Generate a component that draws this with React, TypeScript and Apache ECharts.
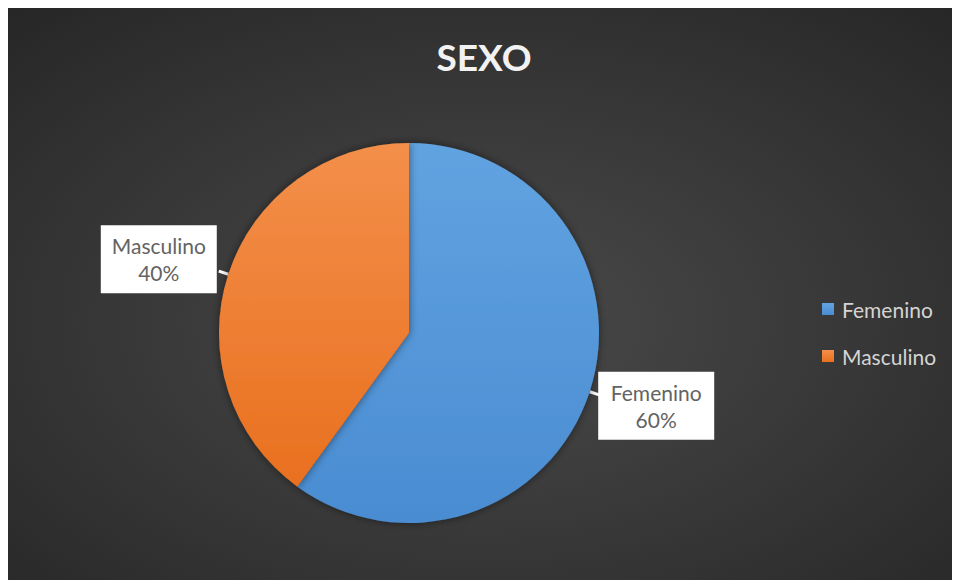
import React, { useEffect, useRef } from "react";
import * as echarts from "echarts";

const categories = ["Femenino", "Masculino"];
const values = [60, 40];
const titleText = "SEXO";

const sliceColors = [
  ["#61a3e1", "#4a8cd1"],
  ["#f38f4a", "#e9701f"],
];

export default function App() {
  const ref = useRef<HTMLDivElement>(null);
  useEffect(() => {
    if (!ref.current) return;
    const chart = echarts.init(ref.current, undefined, { renderer: "svg" });
    const font = "Lato, 'Open Sans', sans-serif";
    chart.setOption({
      animation: false,
      backgroundColor: {
        type: "radial",
        x: 0.5,
        y: 0.55,
        r: 0.75,
        colorStops: [
          { offset: 0, color: "#4a4a4a" },
          { offset: 1, color: "#262626" },
        ],
      },
      title: {
        text: titleText,
        left: "center",
        top: 27,
        textStyle: {
          fontFamily: font,
          fontWeight: "bold",
          fontSize: 37,
          color: "#f2f2f2",
        },
      },
      legend: {
        orient: "vertical",
        left: 809,
        top: 286,
        itemWidth: 12,
        itemHeight: 12,
        itemGap: 23,
        icon: "rect",
        data: categories,
        textStyle: {
          fontFamily: font,
          fontSize: 21,
          lineHeight: 24,
          color: "#d4d4d4",
          padding: [0, 0, 0, 3],
        },
      },
      series: [
        {
          type: "pie",
          center: [401, 327],
          radius: 190,
          startAngle: 90,
          clockwise: true,
          itemStyle: {
            shadowBlur: 8,
            shadowColor: "rgba(0,0,0,0.5)",
          },
          label: {
            show: true,
            position: "outside",
            formatter: (p: any) => `{a|${p.name}}\n{a|${p.percent}%}`,
            backgroundColor: "#ffffff",
            padding: [7, 11],
            rich: {
              a: {
                width: 94,
                align: "center",
                fontFamily: font,
                fontSize: 21,
                lineHeight: 27,
                color: "#636363",
              },
            },
          },
          labelLine: {
            show: true,
            length: 10,
            length2: 0,
            lineStyle: { color: "#ffffff", width: 3 },
          },
          labelLayout: (params: any) =>
            params.dataIndex === 0 ? { dx: -6, dy: 11 } : { dx: 3, dy: -12 },
          data: categories.map((name, i) => ({
            name,
            value: values[i],
            itemStyle: {
              color: {
                type: "linear",
                x: 0,
                y: 0,
                x2: 0,
                y2: 1,
                colorStops: [
                  { offset: 0, color: sliceColors[i][0] },
                  { offset: 1, color: sliceColors[i][1] },
                ],
              },
            },
          })),
        },
      ],
    });
    return () => chart.dispose();
  }, []);
  return (
    <div
      ref={ref}
      style={{ width: 952, height: 574, marginTop: -2 }}
    />
  );
}
